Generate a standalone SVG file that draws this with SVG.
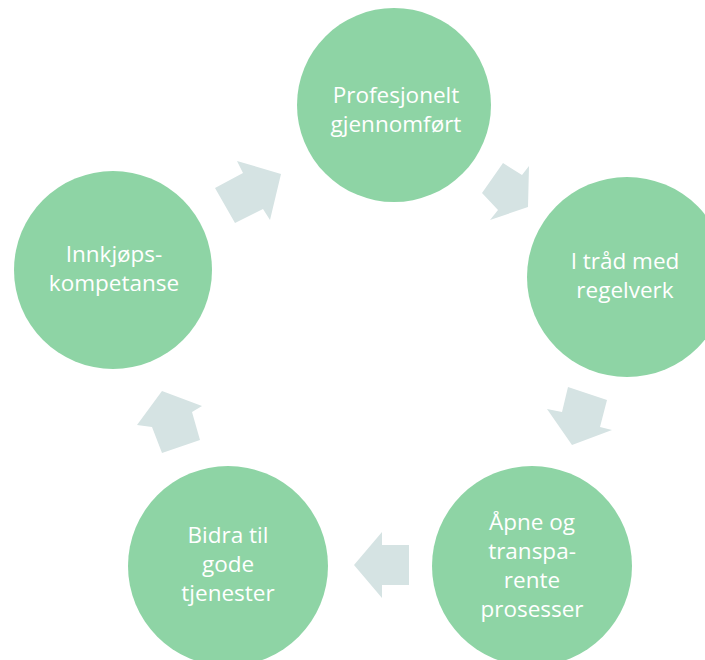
<svg xmlns="http://www.w3.org/2000/svg" width="705" height="660" viewBox="0 0 705 660">
<style>
.c{fill:#8ed4a5}
.a{fill:#d5e3e3}
.t{font-family:"Open Sans","Noto Sans",sans-serif;font-size:22.5px;fill:#ffffff;text-anchor:middle}
</style>
<rect width="705" height="660" fill="#ffffff"/>
<g id="connectors">
<polygon class="a" points="215,188 243,173 237,161 281,174 270,220 263,209 235,223"/>
<polygon class="a" points="503,163 522,175 529,166 528,207 490,220 498,210 482,193"/>
<polygon class="a" points="568,387 607,400 600,427 612,430 572,445 547,409 562,412"/>
<polygon class="a" points="409,545 382,545 382,532 354,565 382,598 382,585 409,585"/>
<polygon class="a" points="200,440 192,412 202,406 162,391 137,425 152,427 162,453"/>
</g>
<g id="n1"><circle class="c" cx="394" cy="105" r="97"/>
<text class="t" x="396" y="103">Profesjonelt</text><text class="t" x="396" y="132">gjennomført</text></g>
<g id="n2"><circle class="c" cx="627" cy="277" r="100"/>
<text class="t" x="625" y="269">I tråd med</text><text class="t" x="625" y="298">regelverk</text></g>
<g id="n3"><circle class="c" cx="532" cy="566" r="100"/>
<text class="t" x="532" y="530">Åpne og</text><text class="t" x="532" y="559">transpa-</text><text class="t" x="532" y="588">rente</text><text class="t" x="532" y="617">prosesser</text></g>
<g id="n4"><circle class="c" cx="228" cy="566" r="100"/>
<text class="t" x="228" y="543">Bidra til</text><text class="t" x="228" y="572">gode</text><text class="t" x="228" y="601">tjenester</text></g>
<g id="n5"><circle class="c" cx="113" cy="270" r="99"/>
<text class="t" x="114" y="262">Innkjøps-</text><text class="t" x="114" y="291">kompetanse</text></g>
</svg>
